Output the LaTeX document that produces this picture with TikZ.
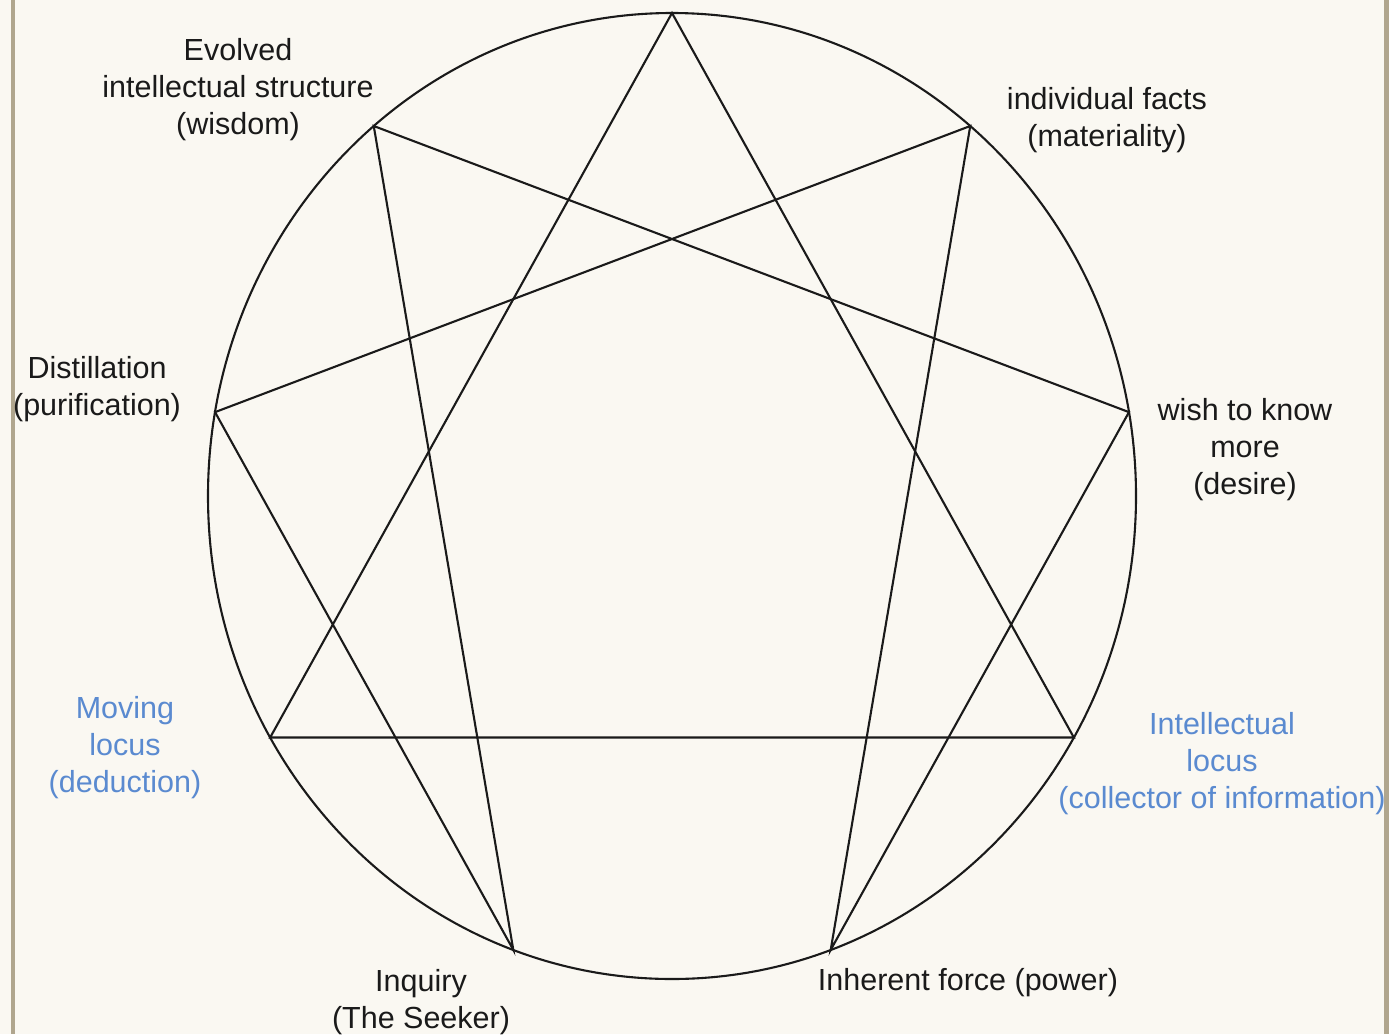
\documentclass[tikz,border=0pt]{standalone}
\usepackage{fontspec}
\setmainfont{Liberation Sans}
\usetikzlibrary{positioning}
\definecolor{paper}{HTML}{FAF8F2}
\definecolor{rim}{HTML}{B0A68E}
\definecolor{locusblue}{HTML}{5A8AD0}
\definecolor{ink}{HTML}{1A1A1A}

\begin{document}
\begin{tikzpicture}[
  x=1pt, y=-1pt,
  label/.style={align=center, inner sep=0pt, text=ink, font=\fontsize{30.5}{37}\selectfont},
  locus/.style={label, text=locusblue},
  line/.style={draw=ink, line width=2.1pt, line join=miter}
]
  % page
  \fill[paper] (0,0) rectangle (1389,1034);
  \useasboundingbox (0,0) rectangle (1389,1034);
  \fill[rim] (11,0) rectangle (15,1034);
  \fill[rim] (1384,0) rectangle (1389,1034);

  % circle and its nine points
  \coordinate (c) at (672,496);
  \draw[line] (c) ellipse [x radius=464, y radius=483];
  \foreach \k in {0,...,8}
    \coordinate (p\k) at ({672+464*sin(40*\k)},{496-483*cos(40*\k)});

  % triangle
  \draw[line] (p0) -- (p3) -- (p6) -- cycle;
  % hexad
  \draw[line] (p1) -- (p4) -- (p2) -- (p8) -- (p5) -- (p7) -- cycle;

  % labels
  \node[label] (wisdom) at (238,90) {Evolved\\intellectual structure\\(wisdom)};
  \node[label] (facts) at (1107,120) {individual facts\\(materiality)};
  \node[label] (desire) at (1245,450) {wish to know\\more\\(desire)};
  \node[label] (distil) at (97,389) {Distillation\\(purification)};
  \node[locus] (moving) at (125,748) {Moving\\locus\\(deduction)};
  \node[locus] (intel) at (1222,764) {Intellectual\\locus\\(collector of information)};
  \node[label] (seeker) at (421,1002) {Inquiry\\(The Seeker)};
  \node[label] (power) at (968,983) {Inherent force (power)};
\end{tikzpicture}
\end{document}
